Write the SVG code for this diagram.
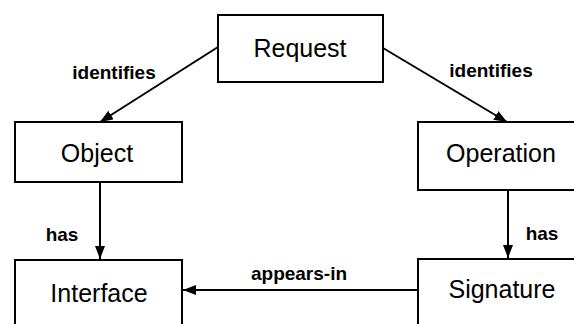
<svg xmlns="http://www.w3.org/2000/svg" width="574" height="324" viewBox="0 0 574 324">
<style>
.box{fill:#fff;stroke:#000;stroke-width:2}
.nt{font-family:"Liberation Sans",Arial,sans-serif;font-size:25px;fill:#000;text-anchor:middle}
.lb{font-family:"Liberation Sans",Arial,sans-serif;font-size:19px;font-weight:bold;fill:#000;text-anchor:middle}
.edge{stroke:#000;stroke-width:2;fill:none;marker-end:url(#ah)}
</style>
<defs>
<marker id="ah" markerUnits="userSpaceOnUse" markerWidth="14" markerHeight="10" refX="13" refY="5" orient="auto">
<path d="M0,0 L13,5 L0,10 z" fill="#000"/>
</marker>
</defs>
<rect width="574" height="324" fill="#fff"/>
<g id="connectors">
<line class="edge" x1="218" y1="47" x2="100" y2="122"/>
<line class="edge" x1="383" y1="48" x2="507" y2="122"/>
<line class="edge" x1="100" y1="182" x2="100" y2="259"/>
<line class="edge" x1="508" y1="190" x2="508" y2="258"/>
<line class="edge" x1="418" y1="290" x2="183" y2="290"/>
<text class="lb" x="114" y="79">identifies</text>
<text class="lb" x="491" y="77">identifies</text>
<text class="lb" x="62" y="241">has</text>
<text class="lb" x="542" y="240">has</text>
<text class="lb" x="299" y="280">appears-in</text>
</g>
<g id="request">
<rect class="box" x="218" y="15" width="165" height="67"/>
<text class="nt" x="300" y="57">Request</text>
</g>
<g id="object">
<rect class="box" x="15" y="122" width="167" height="60"/>
<text class="nt" x="97" y="162">Object</text>
</g>
<g id="operation">
<rect class="box" x="418" y="122" width="200" height="68"/>
<text class="nt" x="501" y="162">Operation</text>
</g>
<g id="interface">
<rect class="box" x="15" y="260" width="167" height="100"/>
<text class="nt" x="99" y="302">Interface</text>
</g>
<g id="signature">
<rect class="box" x="418" y="259" width="200" height="100"/>
<text class="nt" x="502" y="298">Signature</text>
</g>
</svg>
